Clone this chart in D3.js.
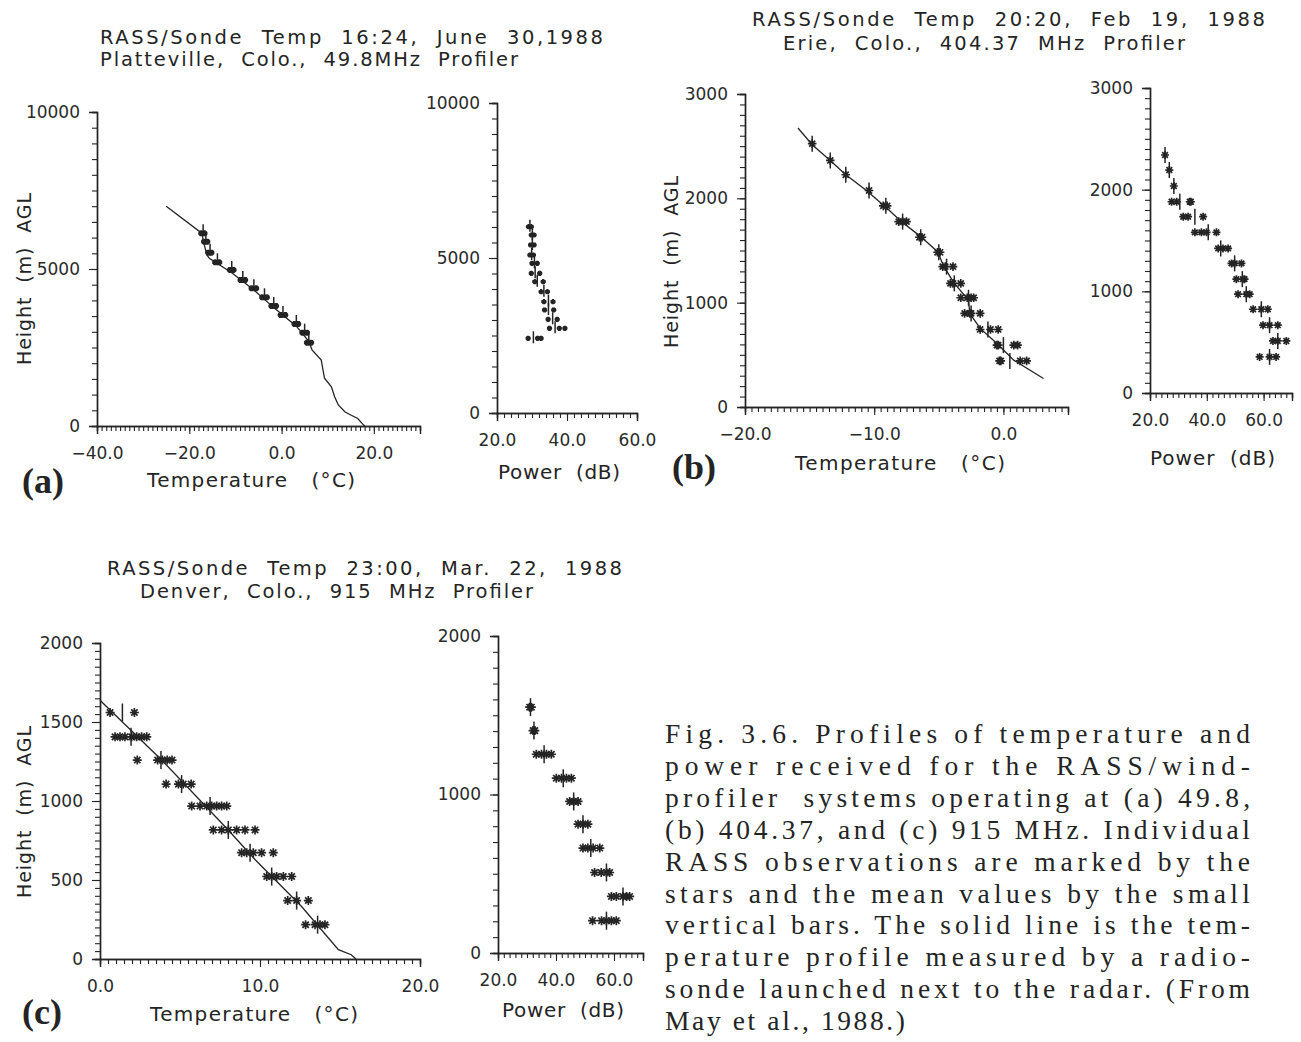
<!DOCTYPE html>
<html>
<head>
<meta charset="utf-8">
<script src="https://cdn.jsdelivr.net/npm/d3@7"></script>
<style>
  body { margin: 0; background: #fff; }
  svg { display: block; }
</style>
</head>
<body>
<svg id="fig" width="1301" height="1042"></svg>
<script>
// ---- (a) Platteville 49.8 MHz ----
let aSondeT = [-25.0, -17.3, -16.8, -16.2, -15.6, -10.8, -6.0, -1.7, 3.2, 5.9, 6.6, 8.6, 9.3, 10.8, 11.5, 12.3, 13.7, 15.0, 16.5, 17.6, 18.0];
let aSondeH = [7000, 6140, 5800, 5450, 5330, 4880, 4330, 3770, 3180, 2700, 2420, 2100, 1520, 1250, 930, 670, 455, 350, 240, 60, 0];
let aRassH = [6137, 5870, 5520, 5214, 4969, 4650, 4385, 4099, 3822, 3535, 3249, 2972, 2653];
let aRassT = [[-17.4, -16.7], [-16.8, -16.1], [-15.9, -15.2], [-14.4, -13.5], [-11.2, -10.4], [-8.9, -7.9],
  [-6.5, -5.5], [-4.2, -3.2], [-2.2, -1.2], [-0.2, 0.8], [2.8, 3.6], [4.5, 5.5], [5.5, 6.4]];
let aRassMean = [-17.0, -16.4, -15.5, -13.9, -10.8, -8.4, -6.0, -3.7, -1.7, 0.3, 3.2, 5.0, 5.9];
let aPowH = [6010, 5742, 5420, 5097, 4829, 4507, 4236, 3913, 3591, 3323, 3023, 2732, 2410];
let aPowP = [[29.0, 29.8], [29.8, 30.6], [29.6, 30.6], [29.4, 30.4], [30.0, 31.5], [29.8, 32.2], [30.8, 33.2],
  [32.6, 34.4], [33.4, 36.0], [33.6, 36.2], [34.6, 37.2], [35.0, 37.8, 39.4], [28.9, 31.6, 32.6]];
let aPowMean = [29.4, 30.1, 30.1, 29.9, 30.7, 30.9, 31.5, 33.4, 34.7, 34.7, 35.9, 36.6, 30.4];

// ---- (b) Erie 404.37 MHz ----
let bSondeT = [-15.9, -14.8, -13.4, -12.2, -10.6, -9.1, -7.9, -6.4, -5.1, -4.6, -3.8, -2.7, -2.6, -1.8, -0.5, 0.8, 3.1];
let bSondeH = [2674, 2514, 2363, 2226, 2075, 1915, 1777, 1633, 1489, 1345, 1185, 1025, 897, 753, 609, 449, 273];
let bRassH = [2524, 2363, 2226, 2075, 1928, 1777, 1627, 1483, 1345, 1185, 1047, 897, 743, 593, 442];
let bRassT = [[-14.8], [-13.4], [-12.2], [-10.4], [-9.3, -9.0], [-8.1, -7.8, -7.5], [-6.5, -6.3], [-5.1, -4.9],
  [-4.7, -4.5, -3.9], [-4.1, -3.9, -3.3], [-3.3, -2.8, -2.5, -2.3], [-3.0, -2.6, -2.5, -1.8],
  [-1.8, -1.0, -0.4], [-0.5, -0.4, 0.8, 1.1], [-0.3, -0.2, 1.3, 1.8]];
let bRassMean = [-14.8, -13.4, -12.2, -10.4, -9.1, -7.8, -6.4, -5.0, -4.4, -3.8, -2.7, -2.5, -1.2, 0.0, 0.5];
let bPowH = [2341, 2193, 2036, 1881, 1734, 1580, 1422, 1275, 1120, 972, 824, 667, 512, 355];
let bPowP = [[25.3], [26.8], [28.4], [27.6, 29.4, 34.0, 34.4], [31.7, 33.4, 38.7], [35.8, 38.1, 39.9, 43.4],
  [44.0, 45.7, 47.5], [48.7, 49.8, 52.2], [50.4, 52.7, 53.3], [51.0, 53.9, 55.1], [56.3, 59.2, 61.5],
  [59.8, 62.1, 65.0], [63.3, 65.0, 68.0], [58.6, 62.1, 64.4]];
let bPowMean = [25.3, 26.8, 28.4, 30.5, 35.8, 40.5, 44.9, 49.8, 52.5, 53.9, 59.2, 62.1, 65.0, 62.1];

// ---- (c) Denver 915 MHz ----
let cSondeT = [0.0, 3.85, 8.0, 9.7, 12.6, 14.9, 15.7, 16.0];
let cSondeH = [1638, 1260, 818, 628, 332, 59, 27, 0];
let cRassH = [1560, 1406, 1259, 1107, 968, 817, 673, 522, 370, 217];
let cRassT = [[0.63, 2.15], [0.94, 1.25, 1.56, 1.98, 2.29, 2.6, 2.92], [2.33, 3.6, 3.9, 4.2, 4.5],
  [4.13, 4.9, 5.2, 5.7], [5.73, 6.25, 6.67, 6.98, 7.29, 7.6, 7.92], [7.08, 7.6, 8.02, 8.54, 9.06, 9.69],
  [8.85, 9.17, 9.58, 10.1, 10.83], [10.42, 10.73, 11.04, 11.46, 11.98], [11.73, 12.29, 13.02],
  [12.85, 13.44, 13.75, 14.06]];
let cRassMean = [1.40, 1.94, 3.81, 5.1, 6.88, 8.02, 9.38, 10.73, 12.29, 13.6];
let cPowH = [1551, 1403, 1254, 1103, 956, 813, 662, 508, 357, 204];
let cPowP = [[30.9, 31.5], [32.1, 32.7], [33.2, 35.0, 36.7, 38.4], [40.1, 41.9, 43.6, 45.3], [44.7, 46.1, 47.6],
  [47.6, 49.3, 51.0], [49.3, 51.0, 52.8, 55.1], [53.3, 55.6, 57.4, 58.5], [59.1, 60.8, 63.1, 64.3, 65.4],
  [52.6, 55.7, 57.4, 59.1, 60.8]];
let cPowMean = [31.2, 32.4, 35.9, 42.5, 46.1, 49.3, 52.0, 57.4, 63.1, 57.4];

// titles and caption
let titles = [
  ['RASS/Sonde  Temp  16:24,  June  30,1988', 'Platteville,  Colo.,  49.8MHz  Profiler'],
  ['RASS/Sonde  Temp  20:20,  Feb  19,  1988', 'Erie,  Colo.,  404.37  MHz  Profiler'],
  ['RASS/Sonde  Temp  23:00,  Mar.  22,  1988', 'Denver,  Colo.,  915  MHz  Profiler']
];
let caption = [
  'Fig. 3.6. Profiles of temperature and',
  'power received for the RASS/wind-',
  'profiler  systems operating at (a) 49.8,',
  '(b) 404.37, and (c) 915 MHz. Individual',
  'RASS observations are marked by the',
  'stars and the mean values by the small',
  'vertical bars. The solid line is the tem-',
  'perature profile measured by a radio-',
  'sonde launched next to the radar. (From',
  'May et al., 1988.)'
];

const ink = '#242424';
const plotFont = 'DejaVu Sans, Verdana, sans-serif';
const svg = d3.select('#fig');

function starPath(r) {
  let d = r * 0.7071;
  return `M${-r},0H${r}M0,${-r}V${r}M${-d},${-d}L${d},${d}M${-d},${d}L${d},${-d}`;
}

function fitText(x, y, str, len, size, anchor) {
  return svg.append('text')
    .attr('x', x).attr('y', y)
    .attr('textLength', len).attr('lengthAdjust', 'spacing')
    .attr('text-anchor', anchor || 'start')
    .attr('font-family', plotFont).attr('font-size', size)
    .attr('fill', ink)
    .style('white-space', 'pre')
    .text(str);
}

function drawPanel(p) {
  let x = d3.scaleLinear().domain(p.xDomain).range(p.xRange);
  let y = d3.scaleLinear().domain(p.yDomain).range(p.yRange);
  let g = svg.append('g');
  let x0 = p.xRange[0], y0 = p.yRange[0];

  // minor ticks
  g.append('g').attr('transform', `translate(0,${y0})`)
    .call(d3.axisBottom(x).tickValues(d3.range(p.xDomain[0], p.xDomain[1] + 1e-6, p.xMinor)).tickSize(5).tickFormat(''));
  g.append('g').attr('transform', `translate(${x0},0)`)
    .call(d3.axisLeft(y).tickValues(d3.range(p.yDomain[0], p.yDomain[1] + 1e-6, p.yMinor)).tickSize(5).tickFormat(''));

  // major ticks with labels
  let xa = g.append('g').attr('transform', `translate(0,${y0})`)
    .call(d3.axisBottom(x).tickValues(p.xLabels).tickSize(8).tickFormat(d3.format('.1f')));
  xa.selectAll('text').attr('y', 33).attr('dy', 0);
  g.append('g').attr('transform', `translate(${x0},0)`)
    .call(d3.axisLeft(y).tickValues(p.yLabels).tickSize(8).tickPadding(9).tickFormat(d3.format('d')));

  g.selectAll('.domain').attr('stroke', ink).attr('stroke-width', 1.4);
  g.selectAll('.tick line').attr('stroke', ink).attr('stroke-width', 1.1);
  g.selectAll('.tick text').attr('font-family', plotFont).attr('font-size', 17).attr('fill', '#2a2a2a');

  // radiosonde profile
  if (p.sonde) {
    g.append('path')
      .datum(p.sonde)
      .attr('fill', 'none').attr('stroke', ink).attr('stroke-width', 1.3)
      .attr('d', d3.line().x(d => x(d[0])).y(d => y(d[1])));
  }

  // individual observations (stars)
  let rows = g.selectAll('g.row').data(p.rows).join('g').attr('class', 'row');
  rows.selectAll('path')
    .data(r => r.vals.map(v => [v, r.h]))
    .join('path')
    .attr('transform', d => `translate(${x(d[0])},${y(d[1])})`)
    .attr('d', starPath(p.starR))
    .attr('fill', 'none').attr('stroke', ink).attr('stroke-width', p.starW);

  // mean values (vertical bars)
  g.selectAll('line.mean').data(p.rows).join('line').attr('class', 'mean')
    .attr('x1', r => x(r.mean)).attr('x2', r => x(r.mean))
    .attr('y1', r => y(r.h) - p.barUp).attr('y2', r => y(r.h) + p.barDown)
    .attr('stroke', ink).attr('stroke-width', 1.5);
}

function makeRows(hs, vals, means) {
  return hs.map((h, i) => ({ h: h, vals: vals[i], mean: means[i] }));
}

// (a)
drawPanel({
  xDomain: [-40, 30], xRange: [97, 420], xLabels: [-40, -20, 0, 20], xMinor: 1,
  yDomain: [0, 10000], yRange: [426, 112], yLabels: [0, 5000, 10000], yMinor: 500,
  sonde: d3.zip(aSondeT, aSondeH), rows: makeRows(aRassH, aRassT, aRassMean),
  starR: 3, starW: 2.2, barUp: 9, barDown: 3
});
drawPanel({
  xDomain: [20, 60], xRange: [497, 637], xLabels: [20, 40, 60], xMinor: 2,
  yDomain: [0, 10000], yRange: [413, 103], yLabels: [0, 5000, 10000], yMinor: 500,
  rows: makeRows(aPowH, aPowP, aPowMean),
  starR: 2.6, starW: 2.2, barUp: 7, barDown: 5
});
// (b)
drawPanel({
  xDomain: [-20, 5], xRange: [745, 1068], xLabels: [-20, -10, 0], xMinor: 0.5,
  yDomain: [0, 3000], yRange: [407, 94], yLabels: [0, 1000, 2000, 3000], yMinor: 100,
  sonde: d3.zip(bSondeT, bSondeH), rows: makeRows(bRassH, bRassT, bRassMean),
  starR: 4.3, starW: 1.7, barUp: 8, barDown: 8
});
drawPanel({
  xDomain: [20, 70], xRange: [1150, 1292], xLabels: [20, 40, 60], xMinor: 2,
  yDomain: [0, 3000], yRange: [393, 88], yLabels: [0, 1000, 2000, 3000], yMinor: 100,
  rows: makeRows(bPowH, bPowP, bPowMean),
  starR: 4, starW: 1.7, barUp: 8, barDown: 8
});
// (c)
drawPanel({
  xDomain: [0, 20], xRange: [100, 420], xLabels: [0, 10, 20], xMinor: 0.5,
  yDomain: [0, 2000], yRange: [959, 643], yLabels: [0, 500, 1000, 1500, 2000], yMinor: 50,
  sonde: d3.zip(cSondeT, cSondeH), rows: makeRows(cRassH, cRassT, cRassMean),
  starR: 4.5, starW: 1.7, barUp: 9, barDown: 9
});
drawPanel({
  xDomain: [20, 70], xRange: [498, 643], xLabels: [20, 40, 60], xMinor: 2,
  yDomain: [0, 2000], yRange: [953, 636], yLabels: [0, 1000, 2000], yMinor: 100,
  rows: makeRows(cPowH, cPowP, cPowMean),
  starR: 4.5, starW: 1.7, barUp: 9, barDown: 9
});

// panel titles
fitText(100, 44, titles[0][0], 503, 19.5);
fitText(100, 66, titles[0][1], 418, 19.5);
fitText(752, 26, titles[1][0], 513, 19.5);
fitText(783, 50, titles[1][1], 402, 19.5);
fitText(107, 575, titles[2][0], 515, 19.5);
fitText(140, 598, titles[2][1], 393, 19.5);

// axis titles
fitText(147, 487, 'Temperature   (°C)', 208, 20);
fitText(498, 479, 'Power  (dB)', 122, 20);
fitText(795, 470, 'Temperature   (°C)', 210, 20);
fitText(1150, 465, 'Power  (dB)', 125, 20);
fitText(150, 1021, 'Temperature   (°C)', 208, 20);
fitText(502, 1017, 'Power  (dB)', 122, 20);
[[31, 279], [678, 262], [31, 812]].forEach(c => {
  fitText(0, 0, 'Height  (m)  AGL', 172, 19, 'middle')
    .attr('transform', `translate(${c[0]},${c[1]}) rotate(-90)`);
});

// panel letters
[['(a)', 22, 493], ['(b)', 672, 479], ['(c)', 22, 1024]].forEach(l => {
  svg.append('text').attr('x', l[1]).attr('y', l[2])
    .attr('font-family', 'Liberation Serif, Times New Roman, serif')
    .attr('font-weight', 'bold').attr('font-size', 36).attr('fill', ink)
    .text(l[0]);
});

// caption, justified
caption.forEach((line, i) => {
  let t = svg.append('text').attr('x', 665).attr('y', 743 + i * 31.9)
    .attr('font-family', 'Liberation Serif, Times New Roman, serif')
    .attr('font-size', 27.5).attr('fill', ink)
    .style('white-space', 'pre')
    .text(line);
  if (i < caption.length - 1) t.attr('textLength', 585).attr('lengthAdjust', 'spacing');
  else t.attr('textLength', 240).attr('lengthAdjust', 'spacing');
});
</script>
</body>
</html>
